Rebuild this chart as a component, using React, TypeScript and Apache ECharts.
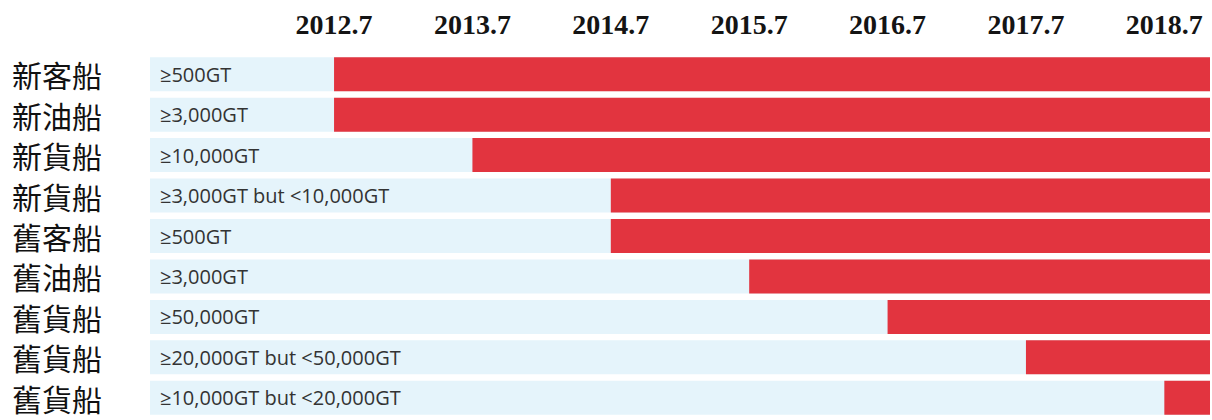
import React, { useEffect, useRef } from "react";
import * as echarts from "echarts";

const categories = ["新客船", "新油船", "新貨船", "新貨船", "舊客船", "舊油船", "舊貨船", "舊貨船", "舊貨船"];
const sizeLabels = [
  "≥500GT",
  "≥3,000GT",
  "≥10,000GT",
  "≥3,000GT but <10,000GT",
  "≥500GT",
  "≥3,000GT",
  "≥50,000GT",
  "≥20,000GT but <50,000GT",
  "≥10,000GT but <20,000GT",
];
const startYears = [2012.7, 2012.7, 2013.7, 2014.7, 2014.7, 2015.7, 2016.7, 2017.7, 2018.7];
const tickYears = [2012.7, 2013.7, 2014.7, 2015.7, 2016.7, 2017.7, 2018.7];
const axisMin = 2011.37;
const axisMax = 2019.03;

export default function App() {
  const ref = useRef<HTMLDivElement>(null);
  useEffect(() => {
    if (!ref.current) return;
    const chart = echarts.init(ref.current, undefined, { renderer: "svg" });
    chart.setOption({
      animation: false,
      backgroundColor: "#ffffff",
      grid: { left: 150, right: 2, top: 54, bottom: 2, containLabel: false },
      xAxis: {
        type: "value",
        position: "top",
        min: axisMin,
        max: axisMax,
        axisLine: { show: false },
        axisTick: { show: false },
        splitLine: { show: false },
        axisLabel: {
          customValues: tickYears,
          formatter: (v: number) => v.toFixed(1),
          fontFamily: "Liberation Serif",
          fontWeight: "bold",
          fontSize: 28,
          color: "#141414",
          margin: 16,
        },
      },
      yAxis: {
        type: "category",
        inverse: true,
        data: categories,
        axisLine: { show: false },
        axisTick: { show: false },
        splitLine: { show: false },
        axisLabel: {
          interval: 0,
          align: "left",
          margin: 138,
          fontFamily: "Noto Sans CJK TC",
          fontSize: 30,
          lineHeight: 34,
          color: "#111111",
        },
      },
      series: [
        {
          type: "bar",
          name: "track",
          data: categories.map(() => axisMax),
          barCategoryGap: "16%",
          barGap: "-100%",
          itemStyle: { color: "#e5f4fb" },
          label: {
            show: true,
            position: "insideLeft",
            distance: 10,
            formatter: (p: any) => sizeLabels[p.dataIndex],
            fontFamily: "Open Sans",
            fontSize: 20,
            color: "#333333",
          },
          silent: true,
        },
        {
          type: "bar",
          name: "before",
          stack: "s",
          data: startYears,
          barCategoryGap: "16%",
          itemStyle: { color: "rgba(0,0,0,0)" },
          silent: true,
        },
        {
          type: "bar",
          name: "required",
          stack: "s",
          data: startYears.map((s) => axisMax - s),
          barCategoryGap: "16%",
          itemStyle: { color: "#e2343f" },
        },
      ],
    });
    return () => chart.dispose();
  }, []);
  return (
    <div
      ref={ref}
      style={{ position: "absolute", left: 0, top: 0, width: 1212, height: 420 }}
    />
  );
}
